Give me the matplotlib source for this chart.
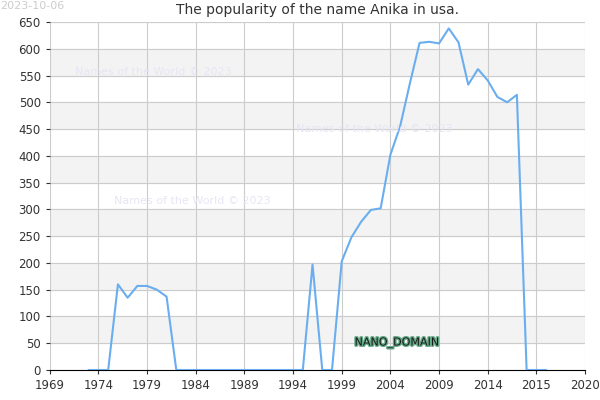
import matplotlib
matplotlib.use("Agg")
import matplotlib.pyplot as plt
import matplotlib.patheffects as pe

years = list(range(1973, 2021))
counts = [0, 0, 0, 160, 135, 157, 157, 150, 137, 0,
          0, 0, 0, 0, 0, 0, 0, 0, 0, 0, 0, 0, 0,
          197, 0, 0, 203, 248, 277, 299, 302, 402, 455, 535,
          611, 613, 610, 638, 612, 533, 562, 541, 510, 500, 514,
          0, 0, 0]
tick_pos = [1969 + 5 * i for i in range(12)]
tick_labels = ['1969', '1974', '1979', '1984', '1989', '1994', '1999',
               '2004', '2009', '2014', '2015', '2020']

fig = plt.figure(figsize=(6, 4), dpi=100)
ax = fig.add_axes([0.083, 0.075, 0.892, 0.87])
for i in range(0, 650, 100):
    ax.axhspan(i + 50, i + 100, color='#f3f3f3', zorder=0)
ax.plot(years, counts, color='#6aaef0', lw=1.5, zorder=3)
ax.set_xlim(1969, 2024)
ax.set_ylim(0, 650)
ax.set_xticks(tick_pos)
ax.set_xticklabels(tick_labels)
ax.set_yticks(range(0, 651, 50))
ax.grid(True, color='#cccccc', lw=0.8, zorder=1)
ax.set_axisbelow(True)
for s in ax.spines.values():
    s.set_visible(False)
ax.spines['bottom'].set_visible(True)
ax.spines['bottom'].set_color('black')
ax.tick_params(labelsize=8.5, length=3, colors='#333333')
ax.set_title('The popularity of the name Anika in usa.', fontsize=10, color='#333333')

# watermarks, pixel positions from the reference
for x, y in [(75, 72), (296, 129), (114, 201)]:
    fig.text(x / 600, 1 - y / 400, 'Names of the World © 2023',
             fontsize=8, color='#e6e6f5', va='center')
fig.text(397 / 600, 1 - 343 / 400, 'NANO_DOMAIN', fontsize=8, color='#1a1a1a',
         ha='center', va='center',
         path_effects=[pe.withStroke(linewidth=2, foreground='#66aa88')])
fig.text(0.0, 0.985, '2023-10-06', fontsize=8, color='#cccccc', va='center')
fig.savefig('out.png')
